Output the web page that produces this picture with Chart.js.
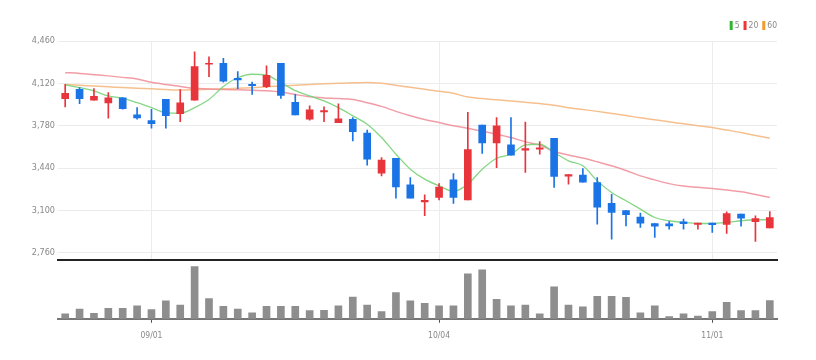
<!DOCTYPE html>
<html>
<head>
<meta charset="utf-8">
<script src="https://cdn.jsdelivr.net/npm/chart.js"></script>
<style>
  html, body { margin:0; padding:0; background:#fff; }
  #wrap { position:relative; width:816px; height:360px; }
  #main { position:absolute; left:0; top:0; }
  #vol { position:absolute; left:0; top:262px; }
</style>
</head>
<body>
<div id="wrap">
  <canvas id="main" width="816" height="268"></canvas>
  <canvas id="vol" width="816" height="98"></canvas>
</div>
<script>
// 일자 (거래일)
var dates = ['08/24','08/25','08/26','08/29','08/30','08/31','09/01','09/02','09/05','09/06',
  '09/07','09/08','09/13','09/14','09/15','09/16','09/19','09/20','09/21','09/22',
  '09/23','09/26','09/27','09/28','09/29','09/30','10/04','10/05','10/06','10/07',
  '10/11','10/12','10/13','10/14','10/17','10/18','10/19','10/20','10/21','10/24',
  '10/25','10/26','10/27','10/28','10/31','11/01','11/02','11/03','11/04','11/07'];
var tickDates = ['09/01','10/04','11/01'];
var priceTicks = [2760, 3100, 3440, 3780, 4120, 4460];

// 시가 / 고가 / 저가 / 종가
var opens  = [3998,4072,3984,3963,4003,3867,3821,3992,3877,3984, 4273,4281,4161,4113,4094,4281,3968,3832,3891,3805,
              3832,3720,3399,3519,3305,3169,3204,3345,3185,3784, 3642,3626,3583,3591,3679,3375,3383,3324,3156,3099,
              3046,2995,2992,3009,2987,2998,2987,3070,3009,2960];
var highs  = [4113,4086,4078,4046,4006,3925,3912,3992,4070,4374, 4332,4321,4214,4131,4260,4281,4032,3939,3931,3955,
              3845,3744,3524,3519,3364,3225,3316,3396,3888,3784, 3845,3845,3810,3653,3679,3388,3436,3364,3230,3099,
              3078,2995,3011,3030,2998,2998,3089,3070,3057,3091];
var lows   = [3931,3957,3984,3840,3912,3832,3760,3760,3813,3984, 4174,4129,4078,4032,4086,4000,3867,3824,3813,3805,
              3658,3463,3377,3198,3198,3057,3185,3156,3185,3557, 3444,3543,3404,3551,3284,3311,3327,2990,2870,2976,
              2963,2883,2950,2950,2950,2923,2915,2974,2851,2960];
var closes = [4040,3998,4016,4003,3917,3843,3797,3861,3963,4254, 4281,4137,4147,4102,4185,4024,3867,3907,3901,3835,
              3733,3511,3503,3289,3198,3180,3287,3204,3589,3642, 3778,3543,3597,3602,3372,3388,3327,3126,3083,3065,
              2998,2974,2976,2993,2998,2985,3075,3038,3035,3043];

// 이동평균선
var ma5  = [4107,4086,4059,4019,4000,3965,3925,3885,3880,3925, 3990,4095,4165,4193,4185,4126,4062,4019,3979,3925,
            3859,3792,3685,3551,3431,3351,3297,3252,3311,3431, 3519,3551,3626,3631,3565,3498,3458,3337,3244,3177,
            3110,3043,3017,3003,2995,2995,3003,3017,3025,3025];
var ma20 = [4206,4200,4190,4180,4168,4155,4128,4110,4095,4080, 4075,4070,4068,4065,4060,4050,4030,4012,4003,3998,
            3990,3965,3935,3895,3860,3830,3805,3780,3760,3735, 3712,3685,3650,3625,3575,3545,3520,3490,3458,3420,
            3377,3345,3315,3295,3285,3275,3263,3250,3228,3203];
var ma60 = [4110,4105,4098,4092,4086,4080,4076,4070,4066,4068, 4072,4076,4080,4085,4092,4098,4104,4110,4116,4120,
            4124,4126,4120,4105,4088,4072,4057,4040,4010,3998, 3988,3978,3968,3958,3945,3925,3910,3895,3878,3862,
            3843,3828,3812,3795,3780,3765,3745,3725,3702,3680];

// 거래량
var volumes = [50000,100000,57000,107000,107000,133000,93000,183000,140000,533000,
               207000,127000,100000,60000,127000,127000,127000,83000,87000,133000,
               223000,140000,73000,267000,183000,157000,133000,133000,460000,500000,
               200000,133000,140000,50000,327000,140000,123000,230000,230000,220000,
               60000,133000,23000,50000,27000,73000,167000,83000,83000,187000];

var FONT = "'Liberation Sans Narrow', 'DejaVu Sans Condensed', sans-serif";
var UP = '#e8353c', DOWN = '#1a74e6';

var bodies = opens.map(function(o, i){ return [o, closes[i]]; });
var wicks = lows.map(function(l, i){ return [l, highs[i]]; });
var candleColors = opens.map(function(o, i){ return closes[i] >= o ? UP : DOWN; });

// 우측 상단 범례
var maLegend = {
  id: 'maLegend',
  afterDraw: function(chart){
    var ctx = chart.ctx;
    var items = chart.data.datasets.filter(function(d){ return d.type === 'line'; });
    ctx.save();
    ctx.font = '8.5px ' + FONT;
    ctx.textBaseline = 'middle';
    var x = chart.chartArea.right;
    for (var k = items.length - 1; k >= 0; k--) {
      var tw = ctx.measureText(items[k].label).width;
      x -= tw;
      ctx.fillStyle = '#888';
      ctx.fillText(items[k].label, x, 25.5);
      x -= 5;
      ctx.fillStyle = items[k].backgroundColor;
      ctx.fillRect(x, 21, 3, 9);
      x -= 4;
    }
    ctx.restore();
  }
};

new Chart(document.getElementById('main'), {
  type: 'bar',
  data: {
    labels: dates,
    datasets: [
      { type:'line', label:'5', data: ma5, borderColor:'rgba(120,210,120,0.9)', backgroundColor:'#2fb52f',
        borderWidth:1.3, pointRadius:0, cubicInterpolationMode:'monotone', order:3 },
      { type:'line', label:'20', data: ma20, borderColor:'rgba(240,140,150,0.85)', backgroundColor:'#ee3434',
        borderWidth:1.5, pointRadius:0, cubicInterpolationMode:'monotone', order:4 },
      { type:'line', label:'60', data: ma60, borderColor:'rgba(245,185,130,0.9)', backgroundColor:'#f39a2c',
        borderWidth:1.5, pointRadius:0, cubicInterpolationMode:'monotone', order:5 },
      { label:'wick', data: wicks, backgroundColor: candleColors, barThickness:1, grouped:false, order:2 },
      { label:'body', data: bodies, backgroundColor: candleColors, barThickness:7, grouped:false, order:1 }
    ]
  },
  options: {
    responsive:false,
    animation:false,
    layout:{ padding:{ left:0, right:39, top:41, bottom:3 } },
    plugins:{ legend:{ display:false }, tooltip:{ enabled:false } },
    scales:{
      x:{
        offset:true,
        grid:{ offset:false, drawTicks:false,
          color: function(c){ return tickDates.indexOf(dates[c.index]) >= 0 ? '#ececec' : 'rgba(0,0,0,0)'; } },
        ticks:{ display:false, autoSkip:false },
        border:{ display:true, color:'#222', width:2 }
      },
      y:{
        min:2705, max:4460,
        afterBuildTicks: function(s){ s.ticks = priceTicks.map(function(v){ return { value:v }; }); },
        afterFit: function(s){ s.width = 58; },
        grid:{ color:'#ececec', drawTicks:false },
        border:{ display:false },
        ticks:{ color:'#888', padding:3, font:{ size:9, family:FONT },
          callback: function(v){ return v.toLocaleString('en-US'); } }
      }
    }
  },
  plugins:[maLegend]
});

new Chart(document.getElementById('vol'), {
  type: 'bar',
  data: {
    labels: dates,
    datasets: [{ label:'거래량', data: volumes, backgroundColor:'#8e8e8e', barThickness:7 }]
  },
  options: {
    responsive:false,
    animation:false,
    layout:{ padding:{ left:58, right:39, top:0, bottom:12 } },
    plugins:{ legend:{ display:false }, tooltip:{ enabled:false } },
    scales:{
      x:{
        grid:{ offset:false, drawOnChartArea:false, tickLength:4,
          color: function(c){ return tickDates.indexOf(dates[c.index]) >= 0 ? '#555' : 'rgba(0,0,0,0)'; } },
        border:{ display:true, color:'#777', width:2 },
        ticks:{ autoSkip:false, maxRotation:0, minRotation:0, padding:7.5, color:'#888',
          font:{ size:8.5, family:FONT },
          callback: function(v, i){ return tickDates.indexOf(dates[i]) >= 0 ? dates[i] : ''; } }
      },
      y:{ display:false, min:0, max:580000 }
    }
  }
});
</script>
</body>
</html>
